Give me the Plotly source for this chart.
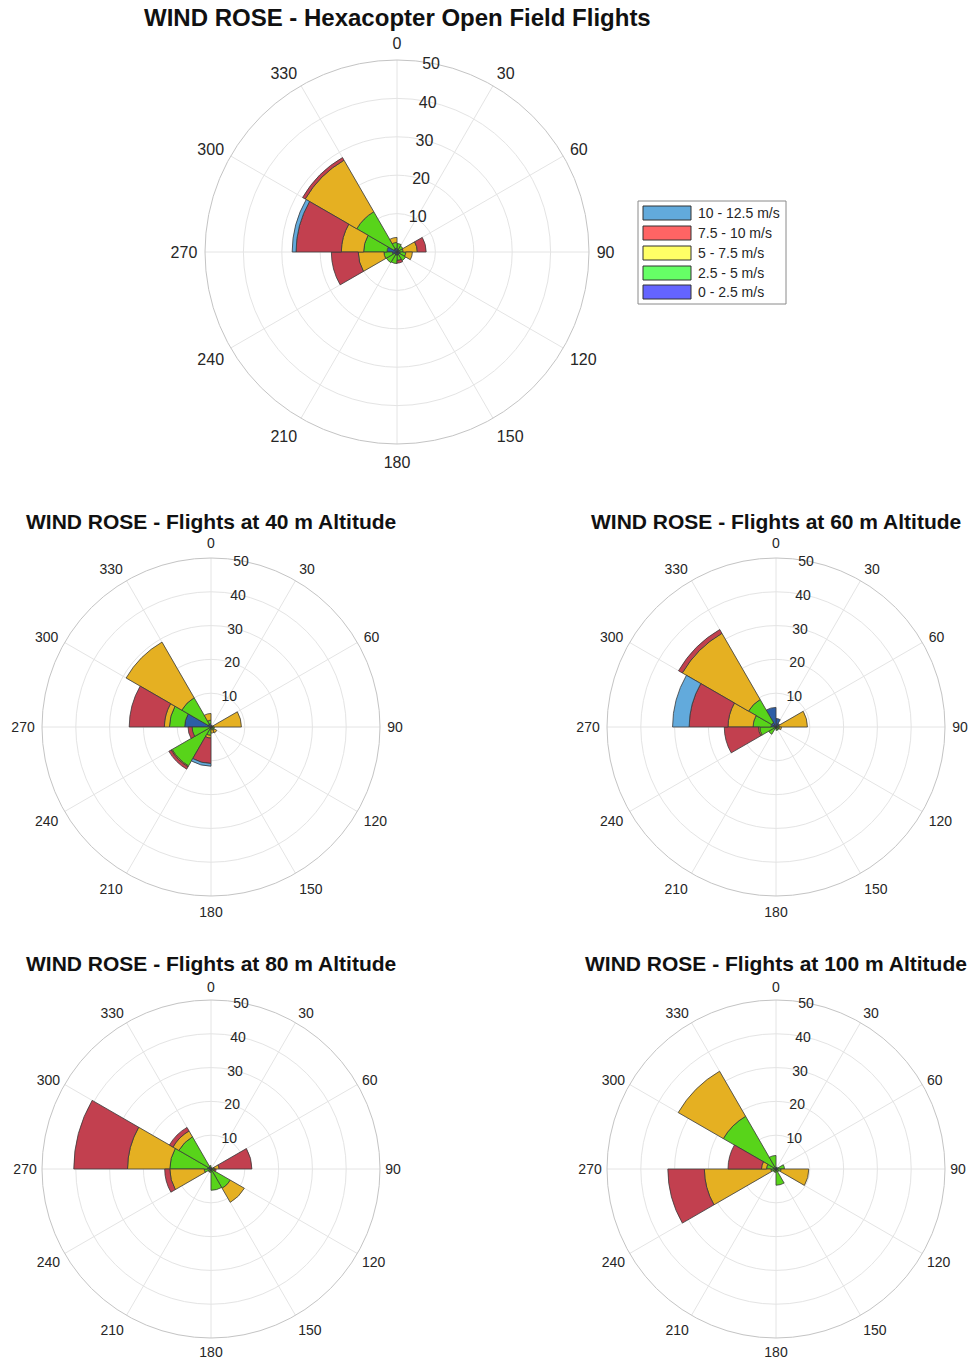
import plotly.graph_objects as go

W, H = 971, 1360

directions = [15, 45, 75, 105, 135, 165, 195, 225, 255, 285, 315, 345]
speed_labels = ["0 - 2.5 m/s", "2.5 - 5 m/s", "5 - 7.5 m/s", "7.5 - 10 m/s", "10 - 12.5 m/s"]
bar_colors = ["#2d5ea6", "#58d41a", "#e5b022", "#c2404f", "#62aadc"]
legend_colors = ["#6464ff", "#66ff66", "#ffff66", "#ff6464", "#62aadc"]
angle_ticks = [0, 30, 60, 90, 120, 150, 180, 210, 240, 270, 300, 330]
radial_ticks = [10, 20, 30, 40, 50]

# frequency (%) per speed class (rows) and direction sector (columns)
open_field = [
    [0.8, 0.6, 0.6, 0.8, 0.8, 0.8, 0.8, 0.8, 1.2, 2.6, 1.0, 1.0],
    [1.4, 1.2, 1.0, 1.5, 1.8, 1.4, 2.2, 2.4, 2.2, 6.1, 11.1, 1.5],
    [0.0, 0.0, 3.7, 1.7, 0.0, 0.0, 0.0, 0.0, 6.7, 5.8, 15.5, 1.3],
    [0.0, 0.0, 2.3, 0.0, 0.0, 0.7, 0.0, 0.0, 7.0, 11.8, 0.8, 0.0],
    [0.0, 0.0, 0.0, 0.0, 0.0, 0.0, 0.0, 0.0, 0.0, 1.0, 0.0, 0.0],
]
alt_40 = [
    [0.5, 0.4, 0.6, 0.5, 0.5, 0.4, 0.6, 0.5, 0.5, 7.8, 1.0, 1.0],
    [0.0, 0.0, 0.2, 0.5, 0.7, 0.4, 1.9, 12.8, 5.1, 4.5, 9.0, 1.0],
    [0.0, 0.0, 8.2, 0.0, 0.8, 1.0, 0.8, 0.3, 0.0, 1.5, 19.0, 2.0],
    [0.0, 0.0, 0.0, 0.0, 0.0, 0.0, 7.5, 0.8, 1.2, 10.4, 0.0, 0.0],
    [0.0, 0.0, 0.0, 0.0, 0.0, 0.0, 0.8, 0.0, 0.0, 0.0, 0.0, 0.0],
]
alt_60 = [
    [2.5, 1.2, 0.5, 0.5, 0.5, 0.5, 0.5, 0.5, 0.5, 1.5, 1.5, 5.8],
    [0.0, 0.0, 0.5, 0.5, 0.5, 0.5, 0.0, 2.0, 4.3, 5.3, 7.9, 0.0],
    [0.0, 0.0, 8.3, 0.6, 0.0, 0.0, 0.0, 0.0, 0.4, 7.4, 22.6, 0.0],
    [0.0, 0.0, 0.0, 0.0, 0.0, 0.0, 0.0, 0.0, 10.1, 11.5, 1.3, 0.0],
    [0.0, 0.0, 0.0, 0.0, 0.0, 0.0, 0.0, 0.0, 0.0, 4.9, 0.0, 0.0],
]
alt_80 = [
    [0.4, 0.4, 0.5, 0.5, 0.5, 0.5, 0.5, 0.5, 0.5, 1.0, 0.8, 0.5],
    [0.0, 0.0, 0.5, 0.5, 6.1, 5.8, 0.5, 0.5, 1.5, 11.2, 10.2, 0.5],
    [0.0, 0.0, 1.4, 0.0, 4.8, 0.0, 0.0, 0.0, 10.2, 12.5, 2.0, 0.0],
    [0.0, 0.0, 9.7, 0.5, 0.0, 0.0, 0.0, 0.0, 1.5, 15.9, 1.2, 0.0],
    [0.0, 0.0, 0.0, 0.0, 0.0, 0.0, 0.0, 0.0, 0.0, 0.0, 0.0, 0.0],
]
alt_100 = [
    [0.5, 0.5, 0.5, 0.5, 0.5, 0.5, 0.5, 0.5, 0.5, 0.8, 0.5, 0.5],
    [0.0, 0.0, 2.0, 1.0, 0.5, 4.3, 0.5, 0.5, 1.0, 2.0, 17.5, 3.5],
    [0.0, 0.0, 0.0, 8.2, 0.0, 0.0, 0.0, 0.0, 19.7, 1.5, 15.4, 0.0],
    [0.0, 0.0, 0.0, 0.0, 0.0, 0.0, 0.0, 0.0, 10.8, 9.9, 0.0, 0.0],
    [0.0, 0.0, 0.0, 0.0, 0.0, 0.0, 0.0, 0.0, 0.0, 0.0, 0.0, 0.0],
]

charts = [
    ("WIND ROSE - Hexacopter Open Field Flights", open_field),
    ("WIND ROSE - Flights at 40 m Altitude", alt_40),
    ("WIND ROSE - Flights at 60 m Altitude", alt_60),
    ("WIND ROSE - Flights at 80 m Altitude", alt_80),
    ("WIND ROSE - Flights at 100 m Altitude", alt_100),
]

# layout geometry in pixels: (cx, cy, radius, title_y, tick font, angular font, title font, label gap)
geom = [
    (397, 252, 192, 18, 16, 16, 24, 4),
    (211, 727, 169, 521, 14, 14, 21, 4),
    (776, 727, 169, 521, 14, 14, 21, 4),
    (211, 1169, 169, 963, 14, 14, 21, 2),
    (776, 1169, 169, 963, 14, 14, 21, 2),
]

FONT = "Liberation Sans, Arial, sans-serif"
TXT = "#262626"

def px(x):
    return x / W

def py(y):
    return 1 - y / H

fig = go.Figure()
layout = dict(
    width=W, height=H, paper_bgcolor="white", plot_bgcolor="white",
    margin=dict(l=0, r=0, t=0, b=0), showlegend=False,
    font=dict(family=FONT, color=TXT),
)
annotations = []
shapes = []

for i, ((title, data), (cx, cy, rad, ty, tfs, afs, titfs, gap)) in enumerate(zip(charts, geom)):
    pid = "polar" if i == 0 else f"polar{i+1}"
    for k in range(5):
        fig.add_trace(go.Barpolar(
            r=data[k], theta=directions, width=[30] * len(directions),
            name=speed_labels[k], subplot=pid,
            marker=dict(color=bar_colors[k], line=dict(color="#3a3a3a", width=0.8)),
        ))
    layout[pid] = dict(
        domain=dict(x=[px(cx - rad), px(cx + rad)], y=[py(cy + rad), py(cy - rad)]),
        bgcolor="white", bargap=0, barmode="stack",
        radialaxis=dict(
            range=[0, 50], tickvals=radial_ticks, angle=85, tickangle=85,
            showline=False, gridcolor="#e4e4e4", gridwidth=1,
            tickfont=dict(size=tfs, color=TXT, family=FONT), ticks="",
        ),
        angularaxis=dict(
            direction="clockwise", rotation=90, tickvals=angle_ticks,
            ticktext=[str(a) for a in angle_ticks],
            gridcolor="#e4e4e4", linecolor="#c4c4c4", linewidth=1,
            ticks="outside", ticklen=gap, tickcolor="rgba(0,0,0,0)",
            tickfont=dict(size=afs, color=TXT, family=FONT),
        ),
    )
    annotations.append(dict(
        text=f"<b>{title}</b>", x=px(cx), y=py(ty), xref="paper", yref="paper",
        showarrow=False, xanchor="center", yanchor="middle",
        font=dict(size=titfs, color="#111111", family=FONT),
    ))

# legend box (drawn)
lx0, ly0, lx1, ly1 = 638, 201, 786, 304
shapes.append(dict(type="rect", xref="paper", yref="paper",
                   x0=px(lx0), x1=px(lx1), y0=py(ly1), y1=py(ly0),
                   line=dict(color="#8a8a8a", width=1), fillcolor="white"))
row_y = [213, 233, 253, 273, 292]
for j, k in enumerate([4, 3, 2, 1, 0]):
    yc = row_y[j]
    shapes.append(dict(type="rect", xref="paper", yref="paper",
                       x0=px(643), x1=px(691), y0=py(yc + 7), y1=py(yc - 7),
                       line=dict(color="#333333", width=1), fillcolor=legend_colors[k]))
    annotations.append(dict(text=speed_labels[k], x=px(696), y=py(yc), xref="paper", yref="paper",
                            showarrow=False, xanchor="left", yanchor="middle",
                            font=dict(size=14, color=TXT, family=FONT)))

layout["annotations"] = annotations
layout["shapes"] = shapes
fig.update_layout(**layout)
fig.write_html("out.html", config={"displayModeBar": False},
               post_script="document.body.style.margin='0';document.body.style.overflow='hidden';")
